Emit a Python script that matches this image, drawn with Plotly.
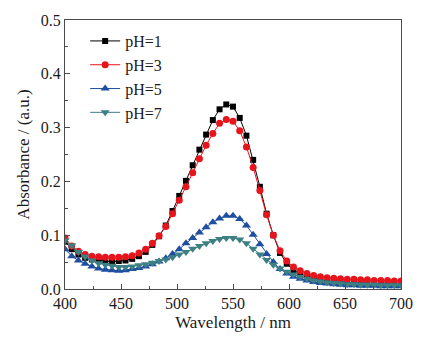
import plotly.graph_objects as go

wavelength = [400 + 6 * i for i in range(51)]

ph1 = [0.088, 0.074, 0.064, 0.058, 0.055, 0.053, 0.052, 0.051, 0.052, 0.053,
       0.056, 0.061, 0.069, 0.082, 0.098, 0.118, 0.145, 0.173, 0.201, 0.230,
       0.259, 0.287, 0.314, 0.334, 0.343, 0.339, 0.318, 0.285, 0.240, 0.190,
       0.140, 0.100, 0.067, 0.047, 0.035, 0.028, 0.023, 0.020, 0.017, 0.015,
       0.014, 0.013, 0.012, 0.011, 0.011, 0.010, 0.010, 0.010, 0.009, 0.009, 0.009]
ph3 = [0.095, 0.080, 0.070, 0.064, 0.061, 0.060, 0.059, 0.059, 0.059, 0.060,
       0.062, 0.067, 0.074, 0.085, 0.099, 0.116, 0.140, 0.165, 0.190, 0.216,
       0.242, 0.267, 0.289, 0.308, 0.315, 0.312, 0.294, 0.264, 0.226, 0.183,
       0.138, 0.100, 0.071, 0.052, 0.041, 0.034, 0.029, 0.025, 0.023, 0.021,
       0.020, 0.019, 0.018, 0.018, 0.017, 0.017, 0.016, 0.016, 0.016, 0.015, 0.015]
ph5 = [0.074, 0.061, 0.053, 0.047, 0.042, 0.038, 0.036, 0.035, 0.034, 0.035,
       0.037, 0.039, 0.042, 0.046, 0.051, 0.057, 0.065, 0.074, 0.085, 0.095,
       0.105, 0.115, 0.124, 0.131, 0.136, 0.136, 0.130, 0.118, 0.101, 0.083,
       0.065, 0.050, 0.037, 0.029, 0.023, 0.019, 0.016, 0.013, 0.011, 0.010,
       0.009, 0.008, 0.007, 0.007, 0.006, 0.006, 0.006, 0.005, 0.005, 0.005, 0.005]
ph7 = [0.090, 0.081, 0.069, 0.060, 0.053, 0.048, 0.045, 0.043, 0.041, 0.041,
       0.042, 0.044, 0.046, 0.049, 0.052, 0.055, 0.059, 0.064, 0.069, 0.075,
       0.080, 0.085, 0.089, 0.093, 0.095, 0.095, 0.092, 0.085, 0.075, 0.064,
       0.054, 0.045, 0.038, 0.032, 0.027, 0.023, 0.019, 0.016, 0.014, 0.012,
       0.011, 0.010, 0.009, 0.009, 0.008, 0.008, 0.008, 0.007, 0.007, 0.007, 0.007]

series_names = ["pH=1", "pH=3", "pH=5", "pH=7"]
series_values = [ph1, ph3, ph5, ph7]
colors = ["#000000", "#e8141c", "#1f4fa0", "#3d8084"]
symbols = ["square", "circle", "triangle-up", "triangle-down"]
sizes = [6, 7, 8, 8]

FONT = "Liberation Serif, Times New Roman, serif"
TXT = "#1a1a1a"
AX = "#4a4a4a"

fig = go.Figure()
for name, vals, c, s, sz in zip(series_names, series_values, colors, symbols, sizes):
    fig.add_trace(go.Scatter(
        x=wavelength, y=vals, name=name, mode="lines+markers",
        line=dict(color=c, width=1),
        marker=dict(symbol=s, size=sz, color=c),
    ))

axis_common = dict(
    showline=True, linecolor=AX, linewidth=1, mirror=True,
    ticks="inside", ticklen=5, tickcolor=AX,
    showgrid=False, zeroline=False,
    tickfont=dict(family=FONT, size=16, color=TXT),
)

fig.update_xaxes(
    range=[400, 700], tickvals=[400, 450, 500, 550, 600, 650, 700],
    minor=dict(ticks="inside", ticklen=3, dtick=25, tick0=400, tickcolor=AX),
    title=dict(text="Wavelength / nm", font=dict(family=FONT, size=17, color=TXT), standoff=4),
    **axis_common,
)
fig.update_yaxes(
    range=[0, 0.5], tickvals=[0, 0.1, 0.2, 0.3, 0.4, 0.5], tickformat=".1f",
    minor=dict(ticks="inside", ticklen=3, dtick=0.05, tick0=0, tickcolor=AX),
    title=dict(text="Absorbance / (a.u.)", font=dict(family=FONT, size=17, color=TXT), standoff=6),
    **axis_common,
)

fig.update_layout(
    width=425, height=343,
    margin=dict(l=65, r=20, t=14, b=54),
    paper_bgcolor="white", plot_bgcolor="white",
    legend=dict(x=0.06, y=0.985, xanchor="left", yanchor="top",
                font=dict(family=FONT, size=16, color=TXT),
                bgcolor="rgba(0,0,0,0)", tracegroupgap=0, itemwidth=30),
)

fig.write_html("out.html")
